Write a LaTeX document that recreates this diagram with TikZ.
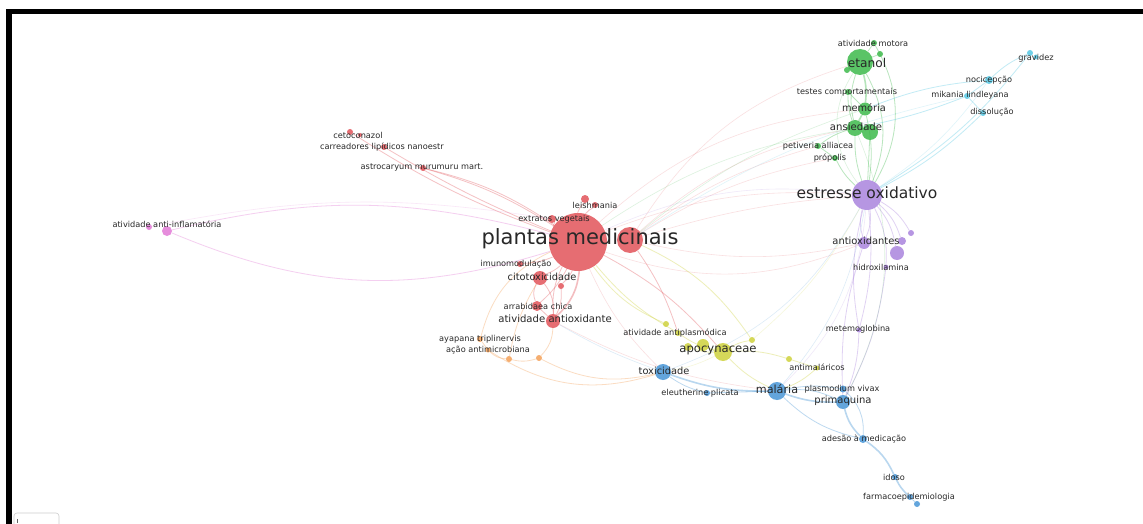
\documentclass[tikz,border=0pt]{standalone}
\usepackage{fontspec}
\setmainfont{DejaVu Sans}
\usetikzlibrary{backgrounds}
\definecolor{cR}{RGB}{226,84,90}
\definecolor{cG}{RGB}{62,186,76}
\definecolor{cP}{RGB}{170,132,222}
\definecolor{cB}{RGB}{72,150,214}
\definecolor{cY}{RGB}{206,210,60}
\definecolor{cC}{RGB}{86,200,228}
\definecolor{cO}{RGB}{244,160,88}
\definecolor{cM}{RGB}{226,122,214}
\definecolor{txt}{RGB}{40,40,40}
\begin{document}
\begin{tikzpicture}[x=1pt,y=-1pt,
  vn/.style 2 args={circle, inner sep=0pt, minimum size=#2pt, fill=#1, fill opacity=0.85, draw=none},
  lbl/.style={font=\fontsize{#1}{#1}\selectfont, text=txt, inner sep=0pt},
  lbl/.default=8.2,
  eg/.style={draw=#1, draw opacity=0.36, line width=0.8pt},
  ew/.style={draw=#1, draw opacity=0.38, line width=1.6pt},
  ef/.style={draw=#1, draw opacity=0.18, line width=0.6pt}]
\useasboundingbox (0,0) rectangle (1143,524);

% ---- vertices: red cluster
\node[vn={cR}{58}] (pm) at (578,242) {};
\node[vn={cR}{26}] (pmb) at (630,240) {};
\node[vn={cR}{8}] (ext) at (552,219) {};
\node[vn={cR}{6}] (lei) at (595,205) {};
\node[vn={cR}{8}] (leib) at (585,199) {};
\node[vn={cR}{6}] (imu) at (520,264) {};
\node[vn={cR}{14}] (cit) at (540,278) {};
\node[vn={cR}{6}] (cits) at (561,286) {};
\node[vn={cR}{10}] (arr) at (537,306) {};
\node[vn={cR}{14}] (aao) at (553,321) {};
\node[vn={cR}{6}] (ceto) at (350,132) {};
\node[vn={cR}{4}] (cetob) at (360,135) {};
\node[vn={cR}{6}] (carr) at (384,147) {};
\node[vn={cR}{6}] (astr) at (423,168) {};
% pink
\node[vn={cM}{6}] (aia) at (149,227) {};
\node[vn={cM}{10}] (aib) at (167,231) {};
% orange
\node[vn={cO}{6}] (aya) at (480,339) {};
\node[vn={cO}{5}] (acao) at (488,350) {};
\node[vn={cO}{6}] (ora) at (509,359) {};
\node[vn={cO}{6}] (orb) at (539,358) {};
% yellow
\node[vn={cY}{18}] (apo) at (723,352) {};
\node[vn={cY}{12}] (apob) at (703,345) {};
\node[vn={cY}{8}] (apoc) at (688,347) {};
\node[vn={cY}{6}] (apod) at (752,340) {};
\node[vn={cY}{6}] (apoe) at (789,359) {};
\node[vn={cY}{6}] (aap) at (678,333) {};
\node[vn={cY}{6}] (yel) at (666,324) {};
\node[vn={cY}{5}] (ama) at (817,368) {};
% blue
\node[vn={cB}{16}] (tox) at (663,372) {};
\node[vn={cB}{18}] (mal) at (777,391) {};
\node[vn={cB}{6}] (ele) at (707,393) {};
\node[vn={cB}{7}] (plv) at (843,389) {};
\node[vn={cB}{14}] (pri) at (843,402) {};
\node[vn={cB}{8}] (ade) at (863,439) {};
\node[vn={cB}{6}] (ido) at (895,477) {};
\node[vn={cB}{6}] (far) at (910,497) {};
\node[vn={cB}{6}] (farb) at (917,504) {};
% purple
\node[vn={cP}{30}] (eox) at (867,195) {};
\node[vn={cP}{12}] (atx) at (864,243) {};
\node[vn={cP}{6}] (pua) at (911,233) {};
\node[vn={cP}{8}] (pub) at (902,241) {};
\node[vn={cP}{14}] (puc) at (897,253) {};
\node[vn={cP}{5}] (hid) at (886,267) {};
\node[vn={cP}{5}] (met) at (859,330) {};
% green
\node[vn={cG}{26}] (eta) at (860,62) {};
\node[vn={cG}{6}] (atm) at (874,43) {};
\node[vn={cG}{6}] (gra) at (880,54) {};
\node[vn={cG}{6}] (grb) at (847,70) {};
\node[vn={cG}{6}] (tes) at (848,92) {};
\node[vn={cG}{13}] (mem) at (865,109) {};
\node[vn={cG}{16}] (ans) at (855,128) {};
\node[vn={cG}{16}] (ansb) at (870,132) {};
\node[vn={cG}{6}] (pet) at (818,146) {};
\node[vn={cG}{6}] (pro) at (835,158) {};
% cyan
\node[vn={cC}{6}] (grv) at (1030,53) {};
\node[vn={cC}{5}] (grvb) at (1036,57) {};
\node[vn={cC}{8}] (noc) at (989,80) {};
\node[vn={cC}{6}] (mik) at (967,96) {};
\node[vn={cC}{6}] (dis) at (983,113) {};

\begin{pgfonlayer}{background}
\fill[white] (0,0) rectangle (1143,524);
% ---- links
% red
\draw[eg=cR] (pm) to[bend left=6] (ceto);
\draw[eg=cR] (pm) to[bend left=4] (carr);
\draw[eg=cR] (pm) to[bend right=8] (astr);
\draw[eg=cR] (pm) to[bend right=10] (astr);
\foreach \t in {ext,lei,leib,imu,cit,cits,arr}
  \draw[eg=cR] (pm) to[bend left=10] (\t);
\draw[ew=cR] (pm) to[bend left=20] (aao);
\draw[eg=cR] (pm) to[bend right=15] (aao);
\draw[eg=cR] (cit) to[bend left=20] (aao);
\draw[eg=cR] (arr) -- (aao);
\draw[eg=cR] (cit) to[bend right=25] (arr);
\draw[eg=cR] (cits) to[bend left=15] (aao);
\draw[ef=cR] (pm) to[bend left=12] (eox);
\draw[ef=cR] (pmb) to[bend left=6] (eox);
\draw[ef=cR] (pmb) to[bend left=15] (ans);
\draw[ef=cR] (pm) to[bend left=18] (mem);
\draw[ef=cR] (pmb) to[bend left=20] (eta);
\draw[ef=cR] (pmb) to[bend right=12] (atx);
\draw[ef=cR] (pm) to[bend right=20] (atx);
\draw[eg=cR] (pm) to[bend left=10] (apo);
\draw[eg=cR] (pmb) to[bend left=8] (aap);
\draw[ef=cR] (pm) to[bend right=10] (tox);
\draw[ef=cR] (aao) to[bend right=10] (mal);
\draw[ef=cB] (aao) to[bend right=5] (tox);
\draw[ef=cR] (pmb) to[bend left=10] (pro);
\draw[ef=cR] (pmb) to[bend left=10] (pet);
% pink
\draw[eg=cM] (aib) to[bend left=14] (pm);
\draw[eg=cM] (aib) to[bend right=20] (pm);
\draw[ef=cM] (aia) to[bend left=10] (ext);
% orange
\draw[eg=cO] (aya) -- (acao);
\draw[eg=cO] (acao) to[bend right=20] (ora);
\draw[eg=cO] (ora) to[bend right=15] (orb);
\draw[eg=cO] (orb) to[bend right=20] (aao);
\draw[eg=cO] (aya) to[bend left=25] (pm);
\draw[eg=cO] (ora) to[bend left=10] (cit);
\draw[eg=cO] (orb) to[bend right=20] (tox);
\draw[eg=cO] (acao) to[bend right=25] (tox);
% yellow
\foreach \t in {aap,apob,apoc,apod,apoe}
  \draw[eg=cY] (apo) to[bend left=10] (\t);
\draw[eg=cY] (apoe) -- (ama);
\draw[eg=cY] (apo) to[bend right=10] (mal);
\draw[eg=cY] (aap) to[bend left=10] (pm);
\draw[eg=cY] (yel) to[bend left=15] (pm);
\draw[eg=cY] (apod) to[bend right=15] (pmb);
\draw[ef=cY] (apod) to[bend right=10] (eox);
\draw[ef=cY] (apo) to[bend left=8] (tox);
\draw[eg=cY] (ama) to[bend left=10] (mal);
% blue
\draw[ew=cB] (tox) to[bend right=10] (mal);
\draw[eg=cB] (tox) to[bend right=10] (ele);
\draw[eg=cB] (ele) -- (mal);
\draw[eg=cB] (mal) to[bend left=10] (plv);
\draw[ew=cB] (mal) to[bend right=10] (pri);
\draw[eg=cB] (mal) to[bend left=15] (pri);
\draw[ew=cB] (pri) to[bend right=15] (ade);
\draw[eg=cB] (plv) to[bend left=25] (ade);
\draw[eg=cB] (mal) to[bend right=15] (ade);
\draw[ew=cB] (ade) to[bend left=15] (ido);
\draw[ew=cB] (ido) to[bend right=10] (far);
\draw[eg=cB] (far) -- (farb);
\draw[ef=cB] (mal) to[bend right=15] (eox);
\draw[ef=cB] (tox) to[bend right=20] (eox);
% purple
\foreach \t in {atx,pua,pub,puc,hid}
  \draw[eg=cP] (eox) to[bend left=15] (\t);
\draw[eg=cP] (eox) to[bend right=15] (atx);
\draw[eg=cP] (eox) to[bend left=10] (met);
\draw[eg=cP] (eox) to[bend right=12] (met);
\draw[eg=cP] (met) to[bend left=10] (pri);
\draw[eg=cP] (hid) to[bend left=10] (pri);
\draw[eg=cP] (atx) to[bend right=10] (pri);
\draw[ef=cP] (eox) to[bend right=15] (pm);
\draw[ef=cP] (eox) to[bend left=20] (mal);
% green
\foreach \t in {atm,gra,grb}
  \draw[eg=cG] (eta) -- (\t);
\draw[ew=cG] (eta) to[bend left=10] (mem);
\draw[eg=cG] (eta) to[bend right=15] (ans);
\draw[ew=cG] (mem) -- (ans);
\draw[eg=cG] (tes) -- (mem);
\draw[eg=cG] (tes) to[bend right=10] (ans);
\draw[eg=cG] (ans) to[bend right=10] (pet);
\draw[eg=cG] (pet) -- (pro);
\draw[eg=cG] (pro) to[bend right=10] (eox);
\draw[eg=cG] (ansb) -- (eox);
\draw[eg=cG] (ans) to[bend right=10] (eox);
\draw[eg=cG] (eta) to[bend left=25] (eox);
\draw[eg=cG] (mem) to[bend left=10] (eox);
\draw[eg=cG] (atm) to[bend left=30] (eox);
\draw[ef=cG] (eta) to[bend right=35] (eox);
\draw[ef=cG] (ans) to[bend right=12] (pm);
\draw[ef=cG] (mem) to[bend right=10] (pmb);
\draw[ef=cG] (ans) to[bend left=25] (pri);
% cyan
\draw[eg=cC] (grv) to[bend right=10] (noc);
\draw[eg=cC] (noc) -- (mik);
\draw[eg=cC] (mik) -- (dis);
\draw[eg=cC] (grv) to[bend left=10] (eox);
\draw[eg=cC] (noc) to[bend right=8] (mem);
\draw[eg=cC] (mik) to[bend left=5] (ans);
\draw[eg=cC] (dis) to[bend left=8] (eox);
\draw[ef=cC] (mik) to[bend right=10] (pmb);
\draw[ef=cC] (noc) to[bend left=10] (eox);
\end{pgfonlayer}

% ---- labels
\node[lbl] (l-atm) at (873,43) {atividade motora};
\node[lbl=12.2] (l-eta) at (867,63) {etanol};
\node[lbl] (l-tes) at (847,92) {testes comportamentais};
\node[lbl=9.8] (l-mem) at (864,108) {memória};
\node[lbl=10.1] (l-ans) at (856,127) {ansiedade};
\node[lbl] (l-pet) at (818,146) {petiveria alliacea};
\node[lbl] (l-pro) at (830,158) {própolis};
\node[lbl] (l-grv) at (1036,58) {gravidez};
\node[lbl] (l-noc) at (989,80) {nocicepção};
\node[lbl] (l-mik) at (970,95) {mikania lindleyana};
\node[lbl] (l-dis) at (992,112) {dissolução};
\node[lbl=15.5] (l-eox) at (867,193) {estresse oxidativo};
\node[lbl=9.9] (l-atx) at (866,241) {antioxidantes};
\node[lbl] (l-hid) at (881,267) {hidroxilamina};
\node[lbl] (l-met) at (858,329) {metemoglobina};
\node[lbl] (l-ceto) at (358,135) {cetoconazol};
\node[lbl] (l-carr) at (382,147) {carreadores lipídicos nanoestr};
\node[lbl] (l-astr) at (422,167) {astrocaryum murumuru mart.};
\node[lbl] (l-lei) at (595,205) {leishmania};
\node[lbl] (l-ext) at (554,219) {extratos vegetais};
\node[lbl=21] (l-pm) at (580,239) {plantas medicinais};
\node[lbl] (l-imu) at (516,264) {imunomodulação};
\node[lbl=9.8] (l-cit) at (542,277) {citotoxicidade};
\node[lbl] (l-arr) at (538,306) {arrabidaea chica};
\node[lbl=10.1] (l-aao) at (555,319) {atividade antioxidante};
\node[lbl] (l-aya) at (480,339) {ayapana triplinervis};
\node[lbl] (l-acao) at (488,350) {ação antimicrobiana};
\node[lbl] (l-aia) at (167,224) {atividade anti-inflamatória};
\node[lbl] (l-aap) at (675,333) {atividade antiplasmódica};
\node[lbl=11.6] (l-apo) at (718,350) {apocynaceae};
\node[lbl] (l-ama) at (817,367) {antimaláricos};
\node[lbl=9.8] (l-tox) at (664,371) {toxicidade};
\node[lbl] (l-ele) at (700,393) {eleutherine plicata};
\node[lbl=11.2] (l-mal) at (777,389) {malária};
\node[lbl] (l-plv) at (842,389) {plasmodium vivax};
\node[lbl=10] (l-pri) at (843,401) {primaquina};
\node[lbl] (l-ade) at (864,439) {adesão à medicação};
\node[lbl] (l-ido) at (894,477) {idoso};
\node[lbl] (l-far) at (909,497) {farmacoepidemiologia};

% ---- frame and corner control
\fill[black] (6,9) rectangle (1143,14);
\fill[black] (6,9) rectangle (12,524);
\draw[black!20, line width=0.6pt, rounded corners=3pt] (14,530) -- (14,513) -- (59,513) -- (59,530);
\draw[black!60, line width=0.6pt] (17,519) -- (17,523);
\end{tikzpicture}
\end{document}
